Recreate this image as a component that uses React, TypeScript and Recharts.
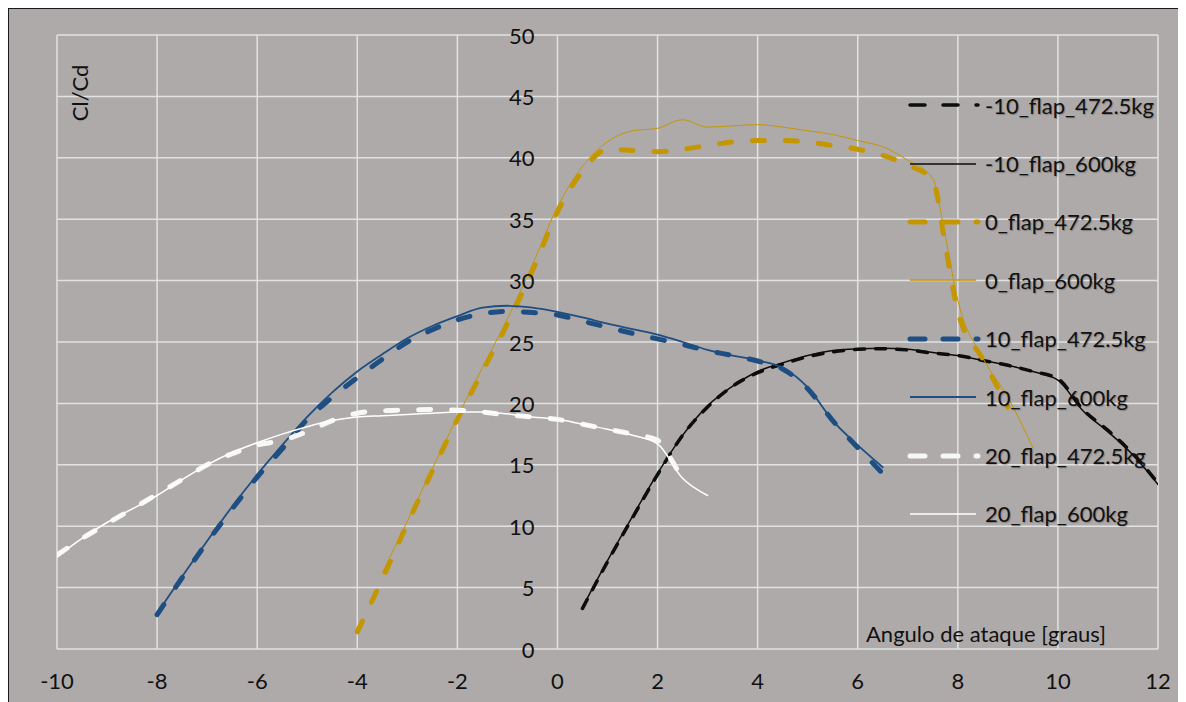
import React from 'react';
import { LineChart, Line, XAxis, YAxis, CartesianGrid, Legend } from 'recharts';

// angle of attack (x) and Cl/Cd (y) per flap setting / mass
const aoaFlapM10 = [0.5, 1, 1.5, 2, 2.5, 3, 3.5, 4, 4.5, 5, 5.5, 6, 6.5, 7, 7.5, 8, 8.5, 9, 9.5, 10, 10.5, 11, 11.5, 12];
const clcdFlapM10_472 = [3.3, 7.1, 10.7, 14.2, 17.4, 19.7, 21.4, 22.5, 23.2, 23.8, 24.2, 24.4, 24.45, 24.35, 24.1, 23.9, 23.5, 23.1, 22.6, 22.0, 19.5, 17.8, 15.9, 13.5];
const clcdFlapM10_600 = [3.4, 7.2, 10.8, 14.3, 17.4, 19.8, 21.4, 22.6, 23.3, 23.9, 24.3, 24.45, 24.5, 24.4, 24.15, 23.9, 23.5, 23.1, 22.6, 21.9, 19.4, 17.7, 15.8, 13.4];

const aoaFlap0_472 = [-4, -3.5, -3, -2.5, -2, -1.5, -1, -0.5, 0, 0.5, 1, 1.5, 2, 2.5, 3, 3.5, 4, 4.5, 5, 5.5, 6, 6.5, 7, 7.5, 7.75, 8, 8.5, 9];
const clcdFlap0_472 = [1.4, 5.7, 10.2, 14.5, 18.7, 22.6, 26.5, 30.8, 35.6, 38.9, 40.7, 40.6, 40.5, 40.7, 41.0, 41.3, 41.4, 41.4, 41.3, 41.0, 40.7, 40.2, 39.4, 38.2, 32.9, 27.5, 23.6, 19.7];
const aoaFlap0_600 = [-3.5, -3, -2.5, -2, -1.5, -1, -0.5, 0, 0.5, 1, 1.5, 2, 2.5, 3, 3.5, 4, 4.5, 5, 5.5, 6, 6.5, 7, 7.5, 7.75, 8, 8.5, 9, 9.5];
const clcdFlap0_600 = [6.2, 10.4, 14.7, 18.9, 22.9, 26.9, 31.3, 36.0, 39.3, 41.3, 42.2, 42.4, 43.1, 42.5, 42.6, 42.7, 42.5, 42.2, 41.9, 41.4, 40.9, 39.8, 38.3, 33.6, 28.4, 23.7, 20.5, 16.4];

const aoaFlap10 = [-8, -7.5, -7, -6.5, -6, -5.5, -5, -4.5, -4, -3.5, -3, -2.5, -2, -1.5, -1, -0.5, 0, 0.5, 1, 1.5, 2, 2.5, 3, 3.5, 4, 4.5, 5, 5.5, 6, 6.5];
const clcdFlap10_472 = [2.8, 5.8, 8.7, 11.4, 14.0, 16.3, 18.7, 20.5, 22.1, 23.6, 25.0, 26.0, 26.8, 27.3, 27.5, 27.4, 27.2, 26.7, 26.2, 25.7, 25.25, 24.8, 24.3, 23.9, 23.45, 22.8, 21.2, 18.6, 16.4, 14.3];
const clcdFlap10_600 = [2.9, 5.9, 8.8, 11.6, 14.2, 16.6, 18.9, 20.9, 22.6, 24.0, 25.3, 26.3, 27.1, 27.8, 27.95, 27.8, 27.45, 27.0, 26.5, 26.05, 25.6, 25.0, 24.35, 23.9, 23.5, 22.9, 21.3, 18.6, 16.6, 14.8];

const aoaFlap20_472 = [-10, -9.5, -9, -8.5, -8, -7.5, -7, -6.5, -6, -5.5, -5, -4.5, -4, -3.5, -3, -2.5, -2, -1.5, -1, -0.5, 0, 0.5, 1, 1.5, 2, 2.25, 2.5];
const clcdFlap20_472 = [7.65, 9.0, 10.2, 11.4, 12.6, 13.8, 15.0, 15.9, 16.6, 17.0, 17.7, 18.6, 19.2, 19.4, 19.45, 19.5, 19.45, 19.3, 19.05, 18.9, 18.7, 18.3, 17.9, 17.5, 17.0, 15.6, 13.8];
const aoaFlap20_600 = [-10, -9.5, -9, -8.5, -8, -7.5, -7, -6.5, -6, -5.5, -5, -4.5, -4, -3.5, -3, -2.5, -2, -1.5, -1, -0.5, 0, 0.5, 1, 1.5, 2, 2.5, 3];
const clcdFlap20_600 = [7.5, 9.0, 10.3, 11.4, 12.5, 13.8, 15.0, 16.0, 16.8, 17.5, 18.1, 18.6, 18.9, 19.0, 19.1, 19.2, 19.3, 19.3, 19.15, 18.9, 18.7, 18.3, 17.9, 17.4, 16.7, 13.9, 12.5];

const xTicks = [-10, -8, -6, -4, -2, 0, 2, 4, 6, 8, 10, 12];
const yTicks = [0, 5, 10, 15, 20, 25, 30, 35, 40, 45, 50];
const X_MIN = -10;
const X_MAX = 12;

const zip = (xs: number[], ys: number[]) => xs.map((x, i) => ({ x, y: ys[i] }));

const BLACK = '#0d0d0d';
const GOLD = '#c49700';
const BLUE = '#1f4e82';
const WHITE = '#f7f7f7';

const series = [
  { name: '-10_flap_472.5kg', data: zip(aoaFlapM10, clcdFlapM10_472), color: BLACK, width: 3.5, dash: '10 11' },
  { name: '-10_flap_600kg', data: zip(aoaFlapM10, clcdFlapM10_600), color: BLACK, width: 1.5, dash: undefined },
  { name: '0_flap_472.5kg', data: zip(aoaFlap0_472, clcdFlap0_472), color: GOLD, width: 5, dash: '12 21' },
  { name: '0_flap_600kg', data: zip(aoaFlap0_600, clcdFlap0_600), color: GOLD, width: 1, dash: undefined },
  { name: '10_flap_472.5kg', data: zip(aoaFlap10, clcdFlap10_472), color: BLUE, width: 5, dash: '12 21' },
  { name: '10_flap_600kg', data: zip(aoaFlap10, clcdFlap10_600), color: BLUE, width: 1.8, dash: undefined },
  { name: '20_flap_472.5kg', data: zip(aoaFlap20_472, clcdFlap20_472), color: WHITE, width: 5, dash: '12 21' },
  { name: '20_flap_600kg', data: zip(aoaFlap20_600, clcdFlap20_600), color: '#ffffff', width: 1.5, dash: undefined },
];

const W = 1177;
const H = 693;
const Y_AXIS_W = 48;
const margin = { top: 26, right: 28, left: 0, bottom: 13 };
const plotW = W - Y_AXIS_W - margin.right;
// y axis crosses at x = 0
const zeroOffset = (plotW * (0 - X_MIN)) / (X_MAX - X_MIN);

const FONT = 'Lato, "Open Sans", sans-serif';
const TEXT = '#111111';
const FS = 22;

const YTick = (props: any) => {
  const { x, y, payload } = props;
  return (
    <text x={x + zeroOffset - 23} y={y} textAnchor="end" dominantBaseline="central" fontSize={FS} fill={TEXT} fontFamily={FONT}>
      {payload.value}
    </text>
  );
};

const XTick = (props: any) => {
  const { x, y, payload } = props;
  return (
    <text x={x} y={y + 31} textAnchor="middle" dominantBaseline="central" fontSize={FS} fill={TEXT} fontFamily={FONT}>
      {payload.value}
    </text>
  );
};

const LegendList = () => (
  <div style={{ fontFamily: FONT }}>
    {series.map((s) => (
      <div key={s.name} style={{ height: 58.4, display: 'flex', alignItems: 'center' }}>
        <svg width={72} height={12} style={{ overflow: 'visible' }}>
          <line
            x1={2}
            y1={6}
            x2={s.dash ? 70 : 68}
            y2={6}
            stroke={s.color}
            strokeWidth={s.dash ? s.width : Math.max(s.width, 1.5)}
            strokeDasharray={s.dash ? '15 18' : undefined}
            strokeLinecap={s.dash ? 'round' : 'butt'}
          />
        </svg>
        <span style={{ marginLeft: 5, fontSize: FS, color: TEXT, textShadow: '1px 1px 1px rgba(0,0,0,0.25)' }}>{s.name}</span>
      </div>
    ))}
  </div>
);

export default function App() {
  return (
    <div
      style={{
        position: 'relative',
        width: 1178,
        height: 694,
        boxSizing: 'border-box',
        borderLeft: '1px solid #1a1a1a',
        borderTop: '1px solid #1a1a1a',
        background: '#aeaaaa',
        fontFamily: FONT,
      }}
    >
      <LineChart width={W} height={H} margin={margin}>
        <CartesianGrid stroke="#e2e2e2" strokeWidth={1.5} />
        <XAxis
          dataKey="x"
          type="number"
          domain={[X_MIN, X_MAX]}
          ticks={xTicks}
          allowDataOverflow
          axisLine={false}
          tickLine={false}
          tickSize={0}
          tickMargin={0}
          height={40}
          tick={<XTick />}
        />
        <YAxis
          type="number"
          domain={[0, 50]}
          ticks={yTicks}
          allowDataOverflow
          axisLine={false}
          tickLine={false}
          tickSize={0}
          tickMargin={0}
          width={Y_AXIS_W}
          tick={<YTick />}
        />
        <Legend
          layout="horizontal"
          verticalAlign="middle"
          align="center"
          wrapperStyle={{ left: 899, top: 67, width: 275 }}
          content={() => <LegendList />}
        />
        {series.map((s) => (
          <Line
            key={s.name}
            name={s.name}
            data={s.data}
            dataKey="y"
            type="monotone"
            stroke={s.color}
            strokeWidth={s.width}
            strokeDasharray={s.dash}
            strokeLinecap="round"
            dot={false}
            activeDot={false}
            isAnimationActive={false}
          />
        ))}
      </LineChart>
      <div
        style={{
          position: 'absolute',
          left: 70,
          top: 84,
          transform: 'translate(-50%, -50%) rotate(-90deg)',
          fontSize: FS,
          color: TEXT,
          whiteSpace: 'nowrap',
        }}
      >
        Cl/Cd
      </div>
      <div
        style={{
          position: 'absolute',
          left: 977,
          top: 624,
          transform: 'translate(-50%, -50%)',
          fontSize: FS,
          color: TEXT,
          whiteSpace: 'nowrap',
        }}
      >
        Angulo de ataque [graus]
      </div>
    </div>
  );
}
